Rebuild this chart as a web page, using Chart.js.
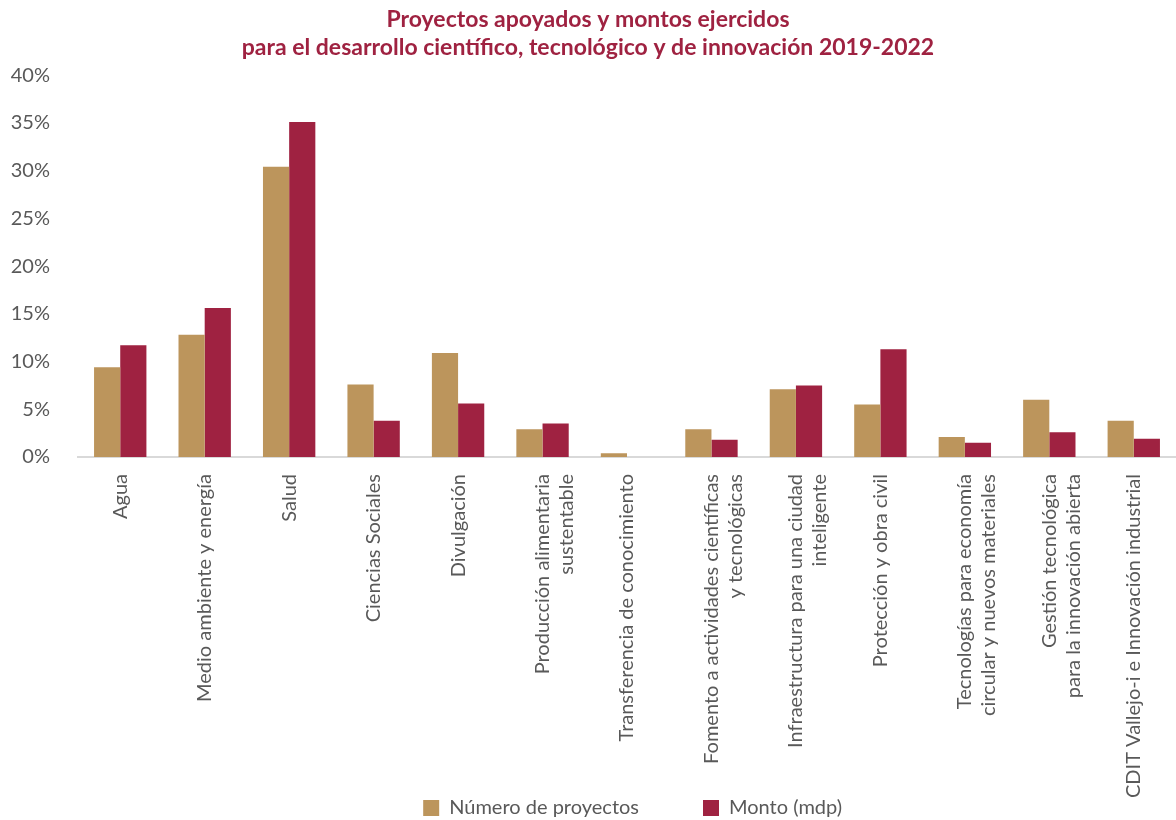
<!DOCTYPE html>
<html>
<head>
<meta charset="utf-8">
<script src="https://cdn.jsdelivr.net/npm/chart.js@4"></script>
<style>
  html, body { margin: 0; padding: 0; background: #fff; }
  #wrap { width: 1176px; height: 820px; }
</style>
</head>
<body>
<div id="wrap"><canvas id="chart"></canvas></div>
<script>
// categories (multi-line labels as in the original)
const categories = [
    'Agua',
    'Medio ambiente y energía',
    'Salud',
    'Ciencias Sociales',
    'Divulgación',
    ['Producción alimentaria', 'sustentable'],
    'Transferencia de conocimiento',
    ['Fomento a actividades científicas', 'y tecnológicas'],
    ['Infraestructura para una ciudad', 'inteligente'],
    'Protección y obra civil',
    ['Tecnologías para economía', 'circular y nuevos materiales'],
    ['Gestión tecnológica', 'para la innovación abierta'],
    'CDIT Vallejo-i e Innovación industrial'
];

// percent of total
const numeroProyectos = [9.4, 12.8, 30.4, 7.6, 10.9, 2.9, 0.4, 2.9, 7.1, 5.5, 2.1, 6.0, 3.8];
const montoMdp = [11.7, 15.6, 35.1, 3.8, 5.6, 3.5, 0, 1.8, 7.5, 11.3, 1.5, 2.6, 1.9];

const gold = '#bc955c';
const wine = '#9f2241';
const grey = '#595959';

Chart.defaults.font.family = 'Lato, "Open Sans", sans-serif';
Chart.defaults.color = grey;

new Chart(document.getElementById('chart').getContext('2d'), {
    type: 'bar',
    data: {
        labels: categories,
        datasets: [{
            label: 'Número de proyectos',
            data: numeroProyectos,
            backgroundColor: gold
        }, {
            label: 'Monto (mdp)',
            data: montoMdp,
            backgroundColor: wine
        }]
    },
    options: {
        responsive: true,
        maintainAspectRatio: false,
        animation: false,
        layout: { padding: { left: 0, right: 0, top: 0, bottom: -8 } },
        categoryPercentage: 0.62,
        barPercentage: 1,
        scales: {
            y: {
                min: 0,
                max: 40,
                ticks: {
                    stepSize: 5,
                    font: { size: 20 },
                    padding: 28,
                    callback: v => v + '%'
                },
                grid: { display: false, drawTicks: false },
                border: { display: false },
                afterFit: axis => { axis.width = 78; }
            },
            x: {
                ticks: {
                    minRotation: 90,
                    maxRotation: 90,
                    autoSkip: false,
                    font: { size: 20 },
                    padding: 17,
                    lineHeight: 1.3
                },
                grid: { display: false, drawTicks: false },
                border: { color: '#d9d9d9', width: 2 },
                // keep the plot as tall as in the original; the longest label may run past the box
                afterFit: axis => {
                    axis.height = 337;
                    axis._computeLabelArea = () => undefined;
                }
            }
        },
        plugins: {
            title: {
                display: true,
                text: ['Proyectos apoyados y montos ejercidos',
                       'para el desarrollo científico, tecnológico y de innovación 2019-2022'],
                color: wine,
                font: { size: 23, weight: 'bold' },
                padding: { top: 6, bottom: 14 },
                lineHeight: 1.25
            },
            legend: {
                position: 'bottom',
                align: 'end',
                labels: {
                    boxWidth: 16,
                    boxHeight: 16,
                    padding: 4,
                    font: { size: 20 },
                    color: grey,
                    // trailing spaces set the gap between items and push the row to where the original has it
                    generateLabels: chart => Chart.defaults.plugins.legend.labels.generateLabels(chart)
                        .map((item, i) => ({
                            ...item,
                            text: item.text + '\u2003'.repeat(i === 0 ? 4 : 22)
                        }))
                }
            },
            tooltip: { enabled: false }
        }
    }
});
</script>
</body>
</html>
